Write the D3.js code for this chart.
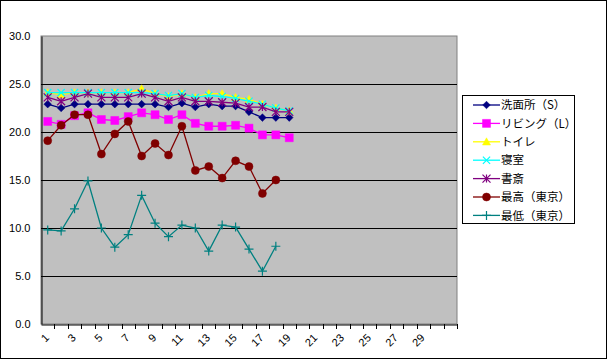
<!DOCTYPE html>
<html><head><meta charset="utf-8">
<script src="https://cdn.jsdelivr.net/npm/d3@7"></script>
<style>
html,body{margin:0;padding:0;background:#fff;}
svg{display:block;}
</style></head>
<body>
<svg id="chart" width="607" height="360"></svg>
<script>
// ---- data ----
const categories = d3.range(1, 32).map(String);
const xTickLabels = ["1","3","5","7","9","11","13","15","17","19","21","23","25","27","29"];
const yTicks = [0, 5, 10, 15, 20, 25, 30];
const seriesNames = ["洗面所（S）", "リビング（L）", "トイレ", "寝室", "書斎", "最高（東京）", "最低（東京）"];
const senmenjo = [22.9, 22.5, 22.9, 22.9, 22.9, 22.9, 22.9, 22.9, 22.9, 22.6, 23.0, 22.6, 22.9, 22.7, 22.7, 22.1, 21.5, 21.5, 21.5];
const living   = [21.1, 20.8, 21.7, 22.0, 21.3, 21.2, 21.6, 22.0, 21.8, 21.3, 21.8, 20.9, 20.6, 20.6, 20.7, 20.4, 19.7, 19.7, 19.4];
const toilet   = [24.1, 23.9, 24.1, 24.1, 24.1, 24.1, 24.1, 24.5, 24.0, 23.7, 24.0, 23.6, 24.0, 24.0, 23.6, 23.4, 22.9, 22.5, 22.2];
const shinshitsu = [24.1, 24.1, 24.1, 24.1, 24.1, 24.1, 24.1, 24.1, 24.0, 23.8, 24.0, 23.6, 23.8, 23.7, 23.5, 23.2, 22.9, 22.5, 22.2];
const shosai   = [23.6, 23.2, 23.6, 24.0, 23.6, 23.6, 23.6, 24.0, 23.6, 23.2, 23.6, 23.2, 23.2, 23.1, 23.0, 22.6, 22.6, 22.1, 22.1];
const maxTokyo = [19.1, 20.7, 21.8, 21.8, 17.7, 19.8, 21.1, 17.5, 18.8, 17.6, 20.6, 16.0, 16.4, 15.2, 17.0, 16.4, 13.6, 15.0];
const minTokyo = [9.8, 9.7, 12.0, 14.9, 10.0, 8.0, 9.3, 13.4, 10.5, 9.1, 10.3, 10.0, 7.6, 10.3, 10.1, 7.8, 5.5, 8.1];

const colors  = ["#000080", "#FF00FF", "#FFFF00", "#00FFFF", "#800080", "#800000", "#008080"];
const markers = ["diamond", "square", "triangle", "x", "asterisk", "circle", "plus"];
const seriesValues = [senmenjo, living, toilet, shinshitsu, shosai, maxTokyo, minTokyo];

// ---- layout ----
const svg = d3.select("#chart");
const plot = {left: 41, right: 457, top: 36, bottom: 324};
const numFont = "'Liberation Sans', Arial, sans-serif";
const jpFont = "'Noto Sans CJK JP', sans-serif";

svg.append("rect").attr("x", 0.5).attr("y", 0.5).attr("width", 606).attr("height", 358)
  .attr("fill", "#fff").attr("stroke", "#000").attr("stroke-width", 1);

const x = d3.scaleBand().domain(categories).range([plot.left, plot.right]).padding(0);
const y = d3.scaleLinear().domain([0, 30]).range([plot.bottom, plot.top]);
const cx = c => x(c) + x.bandwidth() / 2;

// plot background
svg.append("rect").attr("x", plot.left).attr("y", plot.top)
  .attr("width", plot.right - plot.left).attr("height", plot.bottom - plot.top)
  .attr("fill", "#C0C0C0").attr("stroke", "#808080").attr("stroke-width", 1);

// gridlines
svg.append("g").selectAll("line").data(yTicks.filter(t => t > 0 && t < 30)).join("line")
  .attr("x1", plot.left).attr("x2", plot.right)
  .attr("y1", d => Math.round(y(d)) + 0.5).attr("y2", d => Math.round(y(d)) + 0.5)
  .attr("stroke", "#000").attr("stroke-width", 1);

// y axis
const yAxis = svg.append("g").attr("transform", `translate(${plot.left + 0.5},0)`)
  .call(d3.axisLeft(y).tickValues(yTicks).tickFormat(d3.format(".1f")).tickSize(0).tickPadding(11));
yAxis.select(".domain").attr("stroke", "#000");
yAxis.selectAll("text").attr("font-family", numFont).attr("font-size", 11).attr("fill", "#000");

// x axis
const xAxis = svg.append("g").attr("transform", `translate(0,${plot.bottom + 0.5})`)
  .call(d3.axisBottom(x).tickValues(xTickLabels).tickSize(0).tickFormat(d => d));
xAxis.select(".domain").attr("stroke", "#000");
xAxis.selectAll("text")
  .attr("font-family", numFont).attr("font-size", 11).attr("fill", "#000")
  .attr("text-anchor", "end").attr("dy", null).attr("y", null)
  .attr("transform", "translate(2,14) rotate(-45)");
// tick marks at band edges
svg.append("g").selectAll("line").data(categories).join("line")
  .attr("x1", d => Math.round(x(d) + x.bandwidth()) + 0.5)
  .attr("x2", d => Math.round(x(d) + x.bandwidth()) + 0.5)
  .attr("y1", plot.bottom).attr("y2", plot.bottom + 5)
  .attr("stroke", "#000");

// marker path
function markerPath(type, s) {
  const p = d3.path();
  switch (type) {
    case "diamond": p.moveTo(0,-s); p.lineTo(s,0); p.lineTo(0,s); p.lineTo(-s,0); p.closePath(); break;
    case "square": p.rect(-s,-s,2*s,2*s); break;
    case "triangle": p.moveTo(0,-s); p.lineTo(s,s*0.8); p.lineTo(-s,s*0.8); p.closePath(); break;
    case "circle": p.arc(0,0,s,0,2*Math.PI); break;
    case "x": p.moveTo(-s,-s); p.lineTo(s,s); p.moveTo(-s,s); p.lineTo(s,-s); break;
    case "asterisk": p.moveTo(-s,-s); p.lineTo(s,s); p.moveTo(-s,s); p.lineTo(s,-s); p.moveTo(0,-s); p.lineTo(0,s); break;
    case "plus": p.moveTo(-s,0); p.lineTo(s,0); p.moveTo(0,-s); p.lineTo(0,s); break;
  }
  return p.toString();
}
const markerSize = {diamond: 3.8, square: 4, triangle: 4, circle: 4, x: 3.6, asterisk: 4, plus: 4.5};
const filled = t => ["diamond","square","triangle","circle"].includes(t);

function drawMarker(g, type, color) {
  g.append("path").attr("d", markerPath(type, markerSize[type]))
    .attr("fill", filled(type) ? color : "none")
    .attr("stroke", color).attr("stroke-width", filled(type) ? 0.5 : 1.2);
}

const line = d3.line().x((d, i) => cx(categories[i])).y(d => y(d));
seriesValues.forEach((vals, si) => {
  const g = svg.append("g");
  g.append("path").datum(vals).attr("d", line)
    .attr("fill", "none").attr("stroke", colors[si]).attr("stroke-width", 1.3);
  vals.forEach((v, i) => {
    const mg = g.append("g").attr("transform", `translate(${cx(categories[i])},${y(v)})`);
    drawMarker(mg, markers[si], colors[si]);
  });
});

// legend
const legend = svg.append("g");
legend.append("rect").attr("x", 462.5).attr("y", 95.5).attr("width", 112).attr("height", 128)
  .attr("fill", "#fff").attr("stroke", "#000");
seriesNames.forEach((name, i) => {
  const ly = 105 + i * 18.4;
  const g = legend.append("g");
  g.append("line").attr("x1", 473).attr("x2", 500).attr("y1", ly).attr("y2", ly)
    .attr("stroke", colors[i]).attr("stroke-width", 1.3);
  const mg = g.append("g").attr("transform", `translate(486.5,${ly})`);
  drawMarker(mg, markers[i], colors[i]);
  g.append("text").attr("x", 501).attr("y", ly).attr("dy", "0.36em")
    .attr("font-family", jpFont).attr("font-size", 11.5).attr("fill", "#000").text(name);
});
</script>
</body></html>
